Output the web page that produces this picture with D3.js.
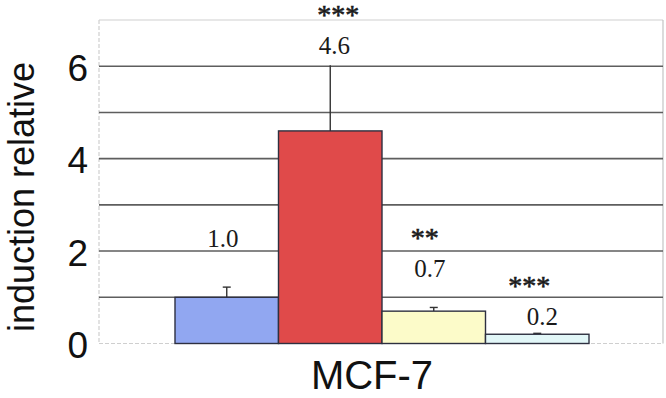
<!DOCTYPE html>
<html>
<head>
<meta charset="utf-8">
<script src="https://cdn.jsdelivr.net/npm/d3@7"></script>
<style>
  html, body { margin: 0; padding: 0; background: #fff; }
  svg { display: block; }
</style>
</head>
<body>
<svg id="chart" width="666" height="398"></svg>
<script>
// Relative induction in MCF-7 cells, four conditions
const conditions = ["control", "treatment 1", "treatment 2", "treatment 3"];
const induction = [1.0, 4.6, 0.7, 0.2];
const errorUp = [0.22, 1.42, 0.08, 0.02];
const significance = ["", "***", "**", "***"];
const yTicks = [0, 2, 4, 6];
const gridValues = [1, 2, 3, 4, 5, 6];
const fills = ["#91a7f1", "#e04a4a", "#fcfbc9", "#e2f7f8"];

// label placement (pixels above the bar top, and horizontal nudge)
const labelLift = [50, 77, 34, 9];
const labelShift = [-4, 4, -4, 5];
const starShift = [0, 8, -9, -8];

const svg = d3.select("#chart");
const plotLeft = 99, plotRight = 663, plotTop = 20, plotBottom = 343.5;

const y = d3.scaleLinear().domain([0, 7]).range([plotBottom, plotTop]);
const x = d3.scaleBand().domain(conditions).range([175, 589]).padding(0);

// plot frame
svg.append("line").attr("x1", plotLeft).attr("x2", plotRight).attr("y1", plotTop).attr("y2", plotTop)
  .attr("stroke", "#d0d0d0").attr("stroke-width", 1.2);
svg.append("line").attr("x1", plotRight).attr("x2", plotRight).attr("y1", plotTop).attr("y2", plotBottom)
  .attr("stroke", "#c4c4c4").attr("stroke-width", 1.2);
svg.append("line").attr("x1", plotLeft).attr("x2", plotLeft).attr("y1", plotTop).attr("y2", plotBottom)
  .attr("stroke", "#cfcfcf").attr("stroke-width", 1.2).attr("stroke-dasharray", "4,2");
svg.append("line").attr("x1", plotLeft).attr("x2", plotRight).attr("y1", plotBottom).attr("y2", plotBottom)
  .attr("stroke", "#cfcfcf").attr("stroke-width", 1.2).attr("stroke-dasharray", "4,2");

// horizontal gridlines
svg.append("g").selectAll("line").data(gridValues).join("line")
  .attr("x1", plotLeft).attr("x2", plotRight)
  .attr("y1", d => y(d)).attr("y2", d => y(d))
  .attr("stroke", "#5e5e5e").attr("stroke-width", 1.6);

// y tick labels
svg.append("g").selectAll("text").data(yTicks).join("text")
  .attr("x", 88).attr("y", d => y(d) + 2)
  .attr("text-anchor", "end").attr("dominant-baseline", "central")
  .attr("font-family", "'Liberation Sans', Arial, sans-serif")
  .attr("font-size", 37).attr("fill", "#111")
  .text(d => d);

// error bars (upper only)
const err = svg.append("g");
conditions.forEach((c, i) => {
  const cx = x(c) + x.bandwidth() / 2;
  err.append("line").attr("x1", cx).attr("x2", cx)
    .attr("y1", y(induction[i])).attr("y2", y(induction[i] + errorUp[i]))
    .attr("stroke", "#333").attr("stroke-width", 1.4);
  if (i !== 1) {
    err.append("line").attr("x1", cx - 4).attr("x2", cx + 4)
      .attr("y1", y(induction[i] + errorUp[i])).attr("y2", y(induction[i] + errorUp[i]))
      .attr("stroke", "#333").attr("stroke-width", 1.4);
  }
});

// bars
svg.append("g").selectAll("rect").data(conditions).join("rect")
  .attr("x", d => x(d))
  .attr("y", (d, i) => y(induction[i]))
  .attr("width", x.bandwidth())
  .attr("height", (d, i) => y(0) - y(induction[i]))
  .attr("fill", (d, i) => fills[i])
  .attr("stroke", "#2e3040").attr("stroke-width", 1.4);

// value labels and significance stars
const labels = svg.append("g")
  .attr("font-family", "'Liberation Serif', 'Times New Roman', serif")
  .attr("fill", "#1a1a1a");
conditions.forEach((c, i) => {
  const cx = x(c) + x.bandwidth() / 2;
  const base = y(induction[i]) - labelLift[i];
  labels.append("text").attr("x", cx + labelShift[i]).attr("y", base)
    .attr("text-anchor", "middle").attr("font-size", 25)
    .text(induction[i].toFixed(1));
  if (significance[i]) {
    labels.append("text").attr("x", cx + starShift[i]).attr("y", base - 30)
      .attr("text-anchor", "middle").attr("font-size", 28)
      .attr("stroke", "#1a1a1a").attr("stroke-width", 0.6)
      .text(significance[i]);
  }
});

// axis titles
svg.append("text")
  .attr("transform", "translate(34,197) rotate(-90)")
  .attr("text-anchor", "middle")
  .attr("font-family", "'Liberation Sans', Arial, sans-serif")
  .attr("font-size", 36).attr("fill", "#111")
  .text("induction relative");

svg.append("text")
  .attr("x", 372).attr("y", 389)
  .attr("text-anchor", "middle")
  .attr("font-family", "'Liberation Sans', Arial, sans-serif")
  .attr("font-size", 40).attr("fill", "#111")
  .text("MCF-7");
</script>
</body>
</html>
